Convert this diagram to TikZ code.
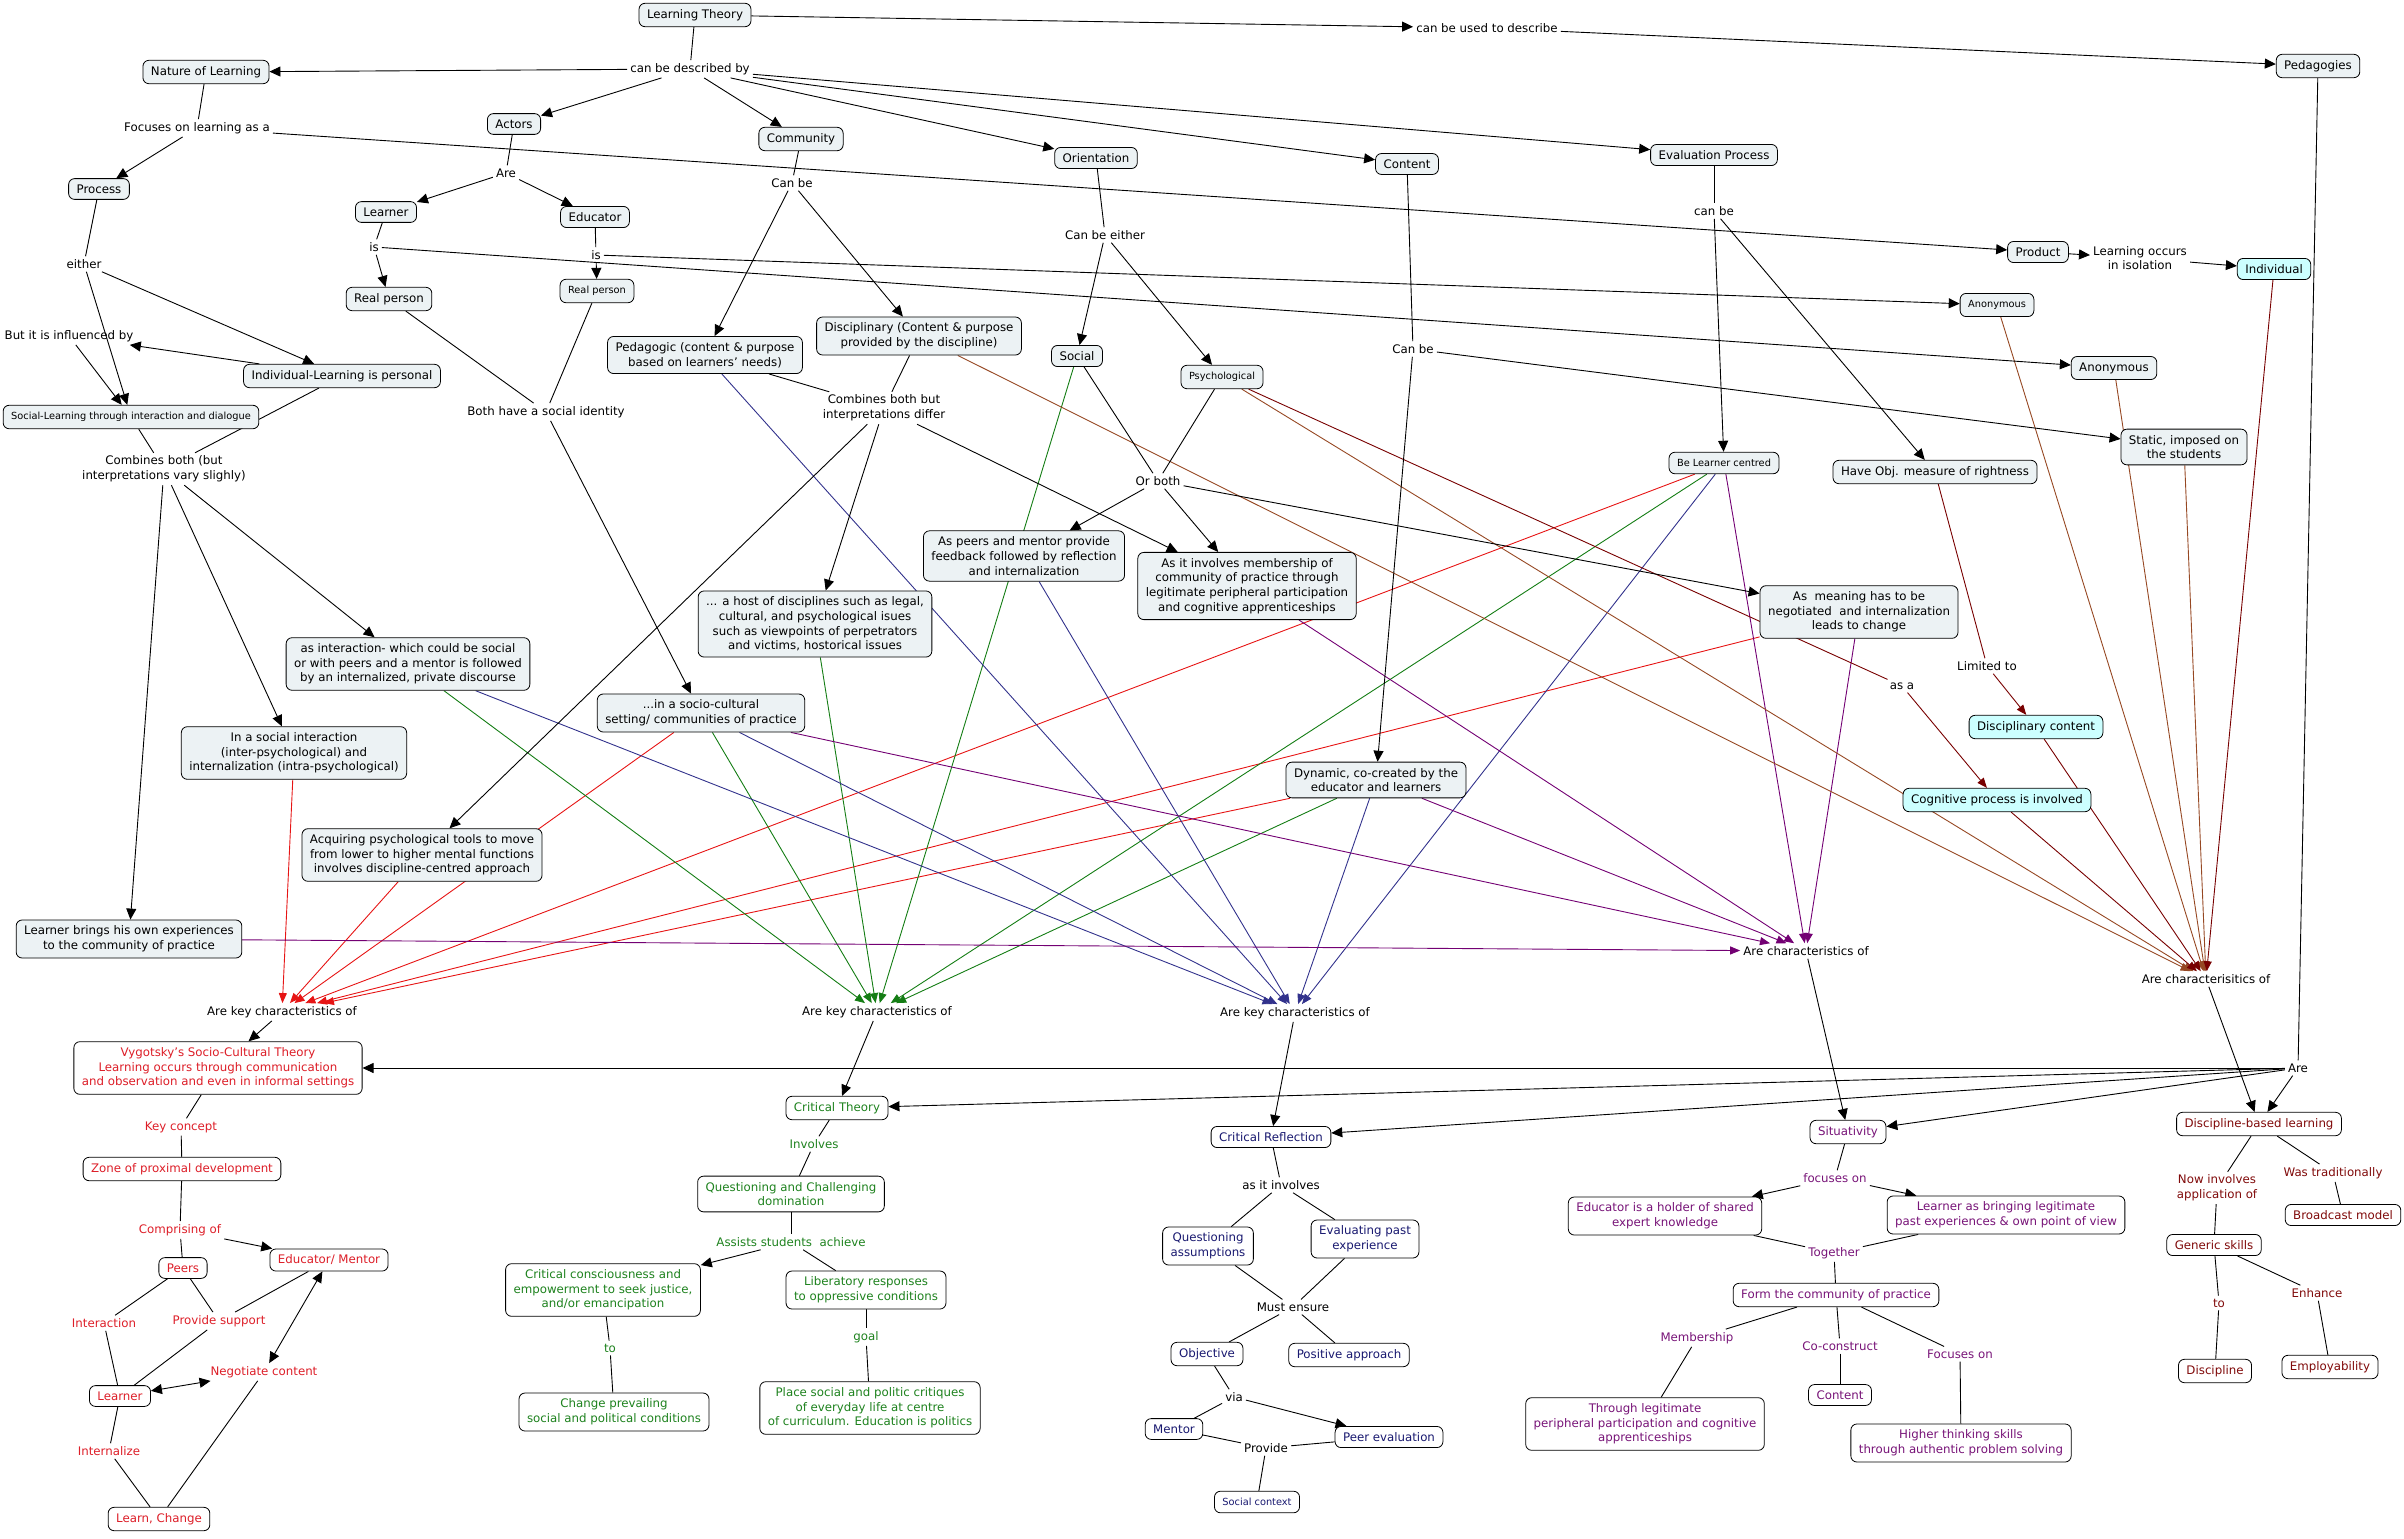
\documentclass[tikz,border=0pt]{standalone}
\usepackage{fontspec}
\setmainfont{DejaVu Sans}
\usetikzlibrary{arrows.meta, backgrounds}
\definecolor{cfill}{RGB}{236,242,244}
\definecolor{cyanfill}{RGB}{204,255,255}
\definecolor{tred}{RGB}{221,30,40}
\definecolor{tgreen}{RGB}{30,130,30}
\definecolor{tnavy}{RGB}{25,25,112}
\definecolor{tpurple}{RGB}{120,20,120}
\definecolor{tmaroon}{RGB}{128,10,10}
\definecolor{ered}{RGB}{230,20,20}
\definecolor{egreen}{RGB}{20,125,20}
\definecolor{eblue}{RGB}{50,50,140}
\definecolor{epurple}{RGB}{115,0,115}
\definecolor{esienna}{RGB}{150,72,35}
\definecolor{emaroon}{RGB}{120,0,0}

\begin{document}
\begin{tikzpicture}[x=1pt, y=-1pt,
  concept/.style={draw, rounded corners=6pt, fill=cfill, align=center,
    inner xsep=8pt, inner ysep=6pt, line width=0.8pt,
    font=\fontsize{11.8}{14.6}\selectfont},
  smallbox/.style={font=\fontsize{9.8}{12}\selectfont, inner ysep=7pt},
  cyanbox/.style={concept, fill=cyanfill},
  whitebox/.style={concept, fill=white},
  phrase/.style={align=center, inner sep=3pt, font=\fontsize{11.8}{14.6}\selectfont},
  plainline/.style={line width=0.9pt},
  arr/.style={line width=0.9pt, -{Triangle[length=11pt,width=10pt]}},
  twoway/.style={line width=0.9pt, {Triangle[length=11pt,width=10pt]}-{Triangle[length=11pt,width=10pt]}},
  carr/.style={line width=0.9pt, -{Triangle[length=10pt,width=8pt]}}]
  \useasboundingbox (0,0) rectangle (2404,1539);

  % top of the map
  \node[concept] (lt) at (695,15) {Learning Theory};
  \node[phrase] (desc) at (690,69) {can be described by};
  \node[phrase] (used) at (1487,28) {can be used to describe};
  \node[concept] (ped) at (2318,66) {Pedagogies};
  \node[concept] (nat) at (206,72) {Nature of Learning};
  \node[phrase] (focus) at (197,128) {Focuses on learning as a};
  \node[concept] (proc) at (99,189) {Process};
  \node[phrase] (either) at (84,264) {either};
  \node[phrase] (infl) at (69,336) {But it is influenced by};
  \node[concept] (indlearn) at (342,376) {Individual-Learning is personal};
  \node[concept, smallbox] (soclearn) at (131,417) {Social-Learning through interaction and dialogue};
  \node[phrase] (combine) at (164,469) {Combines both (but\\interpretations vary slighly)};
  \node[concept] (actors) at (514,124) {Actors};
  \node[phrase] (are) at (506,173) {Are};
  \node[concept] (lrn) at (386,212) {Learner};
  \node[concept] (edu) at (595,217) {Educator};
  \node[phrase] (isa) at (374,247) {is};
  \node[phrase] (isb) at (596,255) {is};
  \node[concept] (reala) at (389,299) {Real person};
  \node[concept, smallbox] (realb) at (597,291) {Real person};
  \node[phrase] (ident) at (546,412) {Both have a social identity};
  \node[concept] (comm) at (801,139) {Community};
  \node[phrase] (canbe) at (792,183) {Can be};
  \node[concept] (orient) at (1096,158) {Orientation};
  \node[phrase] (eitherb) at (1105,235) {Can be either};
  \node[concept] (pedag) at (705,355) {Pedagogic (content \& purpose\\based on learners' needs)};
  \node[concept] (discp) at (919,336) {Disciplinary (Content \& purpose\\provided by the discipline)};
  \node[concept] (soc) at (1077,356) {Social};
  \node[concept, smallbox] (psych) at (1222,377) {Psychological};
  \node[phrase] (diff) at (884,408) {Combines both but\\interpretations differ};
  \node[phrase] (orboth) at (1158,481) {Or both};
  \node[concept] (cont) at (1407,164) {Content};
  \node[concept] (evalp) at (1714,155) {Evaluation Process};
  \node[phrase] (canbeb) at (1714,211) {can be};
  \node[phrase] (canbec) at (1413,349) {Can be};
  \node[concept, smallbox] (lcent) at (1724,463) {Be Learner centred};
  \node[concept] (prod) at (2038,252) {Product};
  \node[phrase] (iso) at (2140,258) {Learning occurs\\in isolation};
  \node[cyanbox] (indv) at (2274,269) {Individual};
  \node[concept, smallbox] (anona) at (1997,305) {Anonymous};
  \node[concept] (anonb) at (2114,368) {Anonymous};
  \node[concept] (static) at (2184,447) {Static, imposed on\\the students};
  \node[concept] (objm) at (1935,472) {Have Obj. measure of rightness};

  % middle
  \node[concept] (inter) at (408,664) {as interaction- which could be social\\or with peers and a mentor is followed\\by an internalized, private discourse};
  \node[concept] (sint) at (294,753) {In a social interaction\\(inter-psychological) and\\internalization (intra-psychological)};
  \node[concept] (tools) at (422,855) {Acquiring psychological tools to move\\from lower to higher mental functions\\involves discipline-centred approach};
  \node[concept] (brings) at (129,939) {Learner brings his own experiences\\to the community of practice};
  \node[concept] (host) at (815,624) {... a host of disciplines such as legal,\\cultural, and psychological isues\\such as viewpoints of perpetrators\\and victims, hostorical issues};
  \node[concept] (socio) at (701,713) {...in a socio-cultural\\setting/ communities of practice};
  \node[concept] (peers) at (1024,556) {As peers and mentor provide\\feedback followed by reflection\\and internalization};
  \node[concept] (memb) at (1247,586) {As it involves membership of\\community of practice through\\legitimate peripheral participation\\and cognitive apprenticeships};
  \node[concept] (dyn) at (1376,780) {Dynamic, co-created by the\\educator and learners};
  \node[concept] (mean) at (1859,612) {As~ meaning has to be\\negotiated~ and internalization\\leads to change};
  \node[phrase] (lim) at (1987,666) {Limited to};
  \node[phrase] (asa) at (1902,686) {as a};
  \node[cyanbox] (dcont) at (2036,727) {Disciplinary content};
  \node[cyanbox] (cogp) at (1997,800) {Cognitive process is involved};
  \node[phrase] (kred) at (282,1012) {Are key characteristics of};
  \node[phrase] (kgreen) at (877,1012) {Are key characteristics of};
  \node[phrase] (kblue) at (1295,1013) {Are key characteristics of};
  \node[phrase] (kpurple) at (1806,951) {Are characteristics of};
  \node[phrase] (kbrown) at (2206,979) {Are characterisitics of};
  \node[phrase] (areb) at (2298,1068) {Are};

  % Vygotsky
  \node[whitebox, text=tred] (vyg) at (218,1068) {Vygotsky's Socio-Cultural Theory\\Learning occurs through communication\\and observation and even in informal settings};
  \node[phrase, text=tred] (key) at (181,1127) {Key concept};
  \node[whitebox, text=tred] (zpd) at (182,1169) {Zone of proximal development};
  \node[phrase, text=tred] (compr) at (180,1230) {Comprising of};
  \node[whitebox, text=tred] (peerr) at (183,1268) {Peers};
  \node[whitebox, text=tred] (edum) at (329,1260) {Educator/ Mentor};
  \node[phrase, text=tred] (interl) at (104,1323) {Interaction};
  \node[phrase, text=tred] (supp) at (219,1321) {Provide support};
  \node[phrase, text=tred] (nego) at (264,1372) {Negotiate content};
  \node[whitebox, text=tred] (lrnr) at (120,1396) {Learner};
  \node[phrase, text=tred] (intz) at (109,1451) {Internalize};
  \node[whitebox, text=tred] (learnch) at (159,1519) {Learn, Change};

  % Critical theory
  \node[whitebox, text=tgreen] (ct) at (837,1108) {Critical Theory};
  \node[phrase, text=tgreen] (invol) at (814,1144) {Involves};
  \node[whitebox, text=tgreen] (qcd) at (791,1194) {Questioning and Challenging\\domination};
  \node[phrase, text=tgreen] (assist) at (791,1242) {Assists students~ achieve};
  \node[whitebox, text=tgreen] (ccons) at (603,1290) {Critical consciousness and\\empowerment to seek justice,\\and/or emancipation};
  \node[whitebox, text=tgreen] (libr) at (866,1290) {Liberatory responses\\to oppressive conditions};
  \node[phrase, text=tgreen] (tolink) at (610,1348) {to};
  \node[whitebox, text=tgreen] (chg) at (614,1412) {Change prevailing\\social and political conditions};
  \node[phrase, text=tgreen] (goal) at (866,1337) {goal};
  \node[whitebox, text=tgreen] (place) at (870,1408) {Place social and politic critiques\\of everyday life at centre\\of curriculum. Education is politics};

  % Critical reflection
  \node[whitebox, text=tnavy] (cr) at (1271,1137) {Critical Reflection};
  \node[phrase] (asinv) at (1281,1185) {as it involves};
  \node[whitebox, text=tnavy] (qa) at (1208,1246) {Questioning\\assumptions};
  \node[whitebox, text=tnavy] (evp) at (1365,1239) {Evaluating past\\experience};
  \node[phrase] (must) at (1293,1307) {Must ensure};
  \node[whitebox, text=tnavy] (obj) at (1207,1354) {Objective};
  \node[whitebox, text=tnavy] (pos) at (1349,1355) {Positive approach};
  \node[phrase] (via) at (1234,1397) {via};
  \node[whitebox, text=tnavy] (ment) at (1174,1429) {Mentor};
  \node[whitebox, text=tnavy] (peev) at (1389,1437) {Peer evaluation};
  \node[phrase] (prov) at (1266,1448) {Provide};
  \node[whitebox, smallbox, text=tnavy] (sctx) at (1257,1502) {Social context};

  % Situativity
  \node[whitebox, text=tpurple] (sit) at (1848,1132) {Situativity};
  \node[phrase, text=tpurple] (foc) at (1835,1178) {focuses on};
  \node[whitebox, text=tpurple] (eduh) at (1665,1216) {Educator is a holder of shared\\expert knowledge};
  \node[whitebox, text=tpurple] (lbring) at (2006,1215) {Learner as bringing legitimate\\past experiences \& own point of view};
  \node[phrase, text=tpurple] (tog) at (1834,1253) {Together};
  \node[whitebox, text=tpurple] (form) at (1836,1295) {Form the community of practice};
  \node[phrase, text=tpurple] (membl) at (1697,1338) {Membership};
  \node[whitebox, text=tpurple] (thru) at (1645,1424) {Through legitimate\\peripheral participation and cognitive\\apprenticeships};
  \node[phrase, text=tpurple] (cocon) at (1840,1346) {Co-construct};
  \node[whitebox, text=tpurple] (contp) at (1840,1395) {Content};
  \node[phrase, text=tpurple] (focon) at (1960,1354) {Focuses on};
  \node[whitebox, text=tpurple] (higher) at (1961,1443) {Higher thinking skills\\through authentic problem solving};

  % Discipline-based learning
  \node[whitebox, text=tmaroon] (dbl) at (2259,1124) {Discipline-based learning};
  \node[phrase, text=tmaroon] (now) at (2217,1188) {Now involves\\application of};
  \node[phrase, text=tmaroon] (trad) at (2333,1173) {Was traditionally};
  \node[whitebox, text=tmaroon] (bcast) at (2343,1215) {Broadcast model};
  \node[whitebox, text=tmaroon] (gen) at (2214,1245) {Generic skills};
  \node[phrase, text=tmaroon] (tolinkb) at (2219,1303) {to};
  \node[phrase, text=tmaroon] (enh) at (2317,1293) {Enhance};
  \node[whitebox, text=tmaroon] (disc) at (2215,1371) {Discipline};
  \node[whitebox, text=tmaroon] (empl) at (2330,1367) {Employability};

  \begin{pgfonlayer}{background}
    % coloured links to the key characteristics
    \foreach \s in {sint, tools, socio, lcent, mean, dyn}
      \draw[carr, ered] (\s) -- (kred);
    \foreach \s in {inter, socio, host, soc, lcent, dyn}
      \draw[carr, egreen] (\s) -- (kgreen);
    \foreach \s in {pedag, inter, socio, peers, lcent, dyn}
      \draw[carr, eblue] (\s) -- (kblue);
    \foreach \s in {brings, socio, memb, dyn, lcent, mean}
      \draw[carr, epurple] (\s) -- (kpurple);
    \foreach \s in {discp, psych, anona, anonb, static}
      \draw[carr, esienna] (\s) -- (kbrown);
    \foreach \s in {cogp, dcont, indv}
      \draw[carr, emaroon] (\s) -- (kbrown);
    \draw[line width=0.9pt, emaroon] (objm) -- (lim);
    \draw[carr, emaroon] (lim) -- (dcont);
    \draw[line width=0.9pt, emaroon] (psych) -- (asa);
    \draw[carr, emaroon] (asa) -- (cogp);

    % plain links
    \foreach \a/\b in {lt/desc, nat/focus, proc/either, soclearn/combine, indlearn/combine,
        actors/are, lrn/isa, edu/isb, reala/ident, realb/ident, comm/canbe, orient/eitherb,
        pedag/diff, discp/diff, soc/orboth, psych/orboth, cont/canbec, evalp/canbeb, ped/areb,
        vyg/key, key/zpd, zpd/compr, compr/peerr, peerr/interl, interl/lrnr, peerr/supp,
        edum/supp, supp/lrnr, lrnr/intz, intz/learnch, nego/learnch,
        ct/invol, invol/qcd, qcd/assist, assist/libr, ccons/tolink, tolink/chg, libr/goal, goal/place,
        cr/asinv, asinv/qa, asinv/evp, qa/must, evp/must, must/obj, must/pos, obj/via, via/ment,
        ment/prov, peev/prov, prov/sctx,
        sit/foc, eduh/tog, lbring/tog, tog/form, form/membl, membl/thru, form/cocon, cocon/contp,
        form/focon, focon/higher,
        dbl/now, now/gen, dbl/trad, trad/bcast, gen/tolinkb, tolinkb/disc, gen/enh, enh/empl}
      \draw[plainline] (\a) -- (\b);

    % arrows
    \foreach \a/\b in {desc/nat, desc/actors, desc/comm, desc/orient, desc/cont, desc/evalp,
        lt/used, used/ped, focus/proc, focus/prod, prod/iso, iso/indv,
        either/soclearn, either/indlearn, indlearn/infl, infl/soclearn,
        combine/brings, combine/sint, combine/inter, are/lrn, are/edu,
        isa/reala, isa/anonb, isb/realb, isb/anona, ident/socio, canbe/pedag, canbe/discp,
        diff/tools, diff/host, diff/memb, eitherb/soc, eitherb/psych,
        orboth/peers, orboth/memb, orboth/mean, canbec/dyn, canbec/static, canbeb/lcent, canbeb/objm,
        kred/vyg, kgreen/ct, kblue/cr, kpurple/sit, kbrown/dbl,
        areb/vyg, areb/ct, areb/cr, areb/sit, areb/dbl,
        compr/edum, assist/ccons, via/peev, foc/eduh, foc/lbring}
      \draw[arr] (\a) -- (\b);
    \draw[twoway] (lrnr) -- (nego);
    \draw[twoway] (edum) -- (nego);
  \end{pgfonlayer}
\end{tikzpicture}
\end{document}
